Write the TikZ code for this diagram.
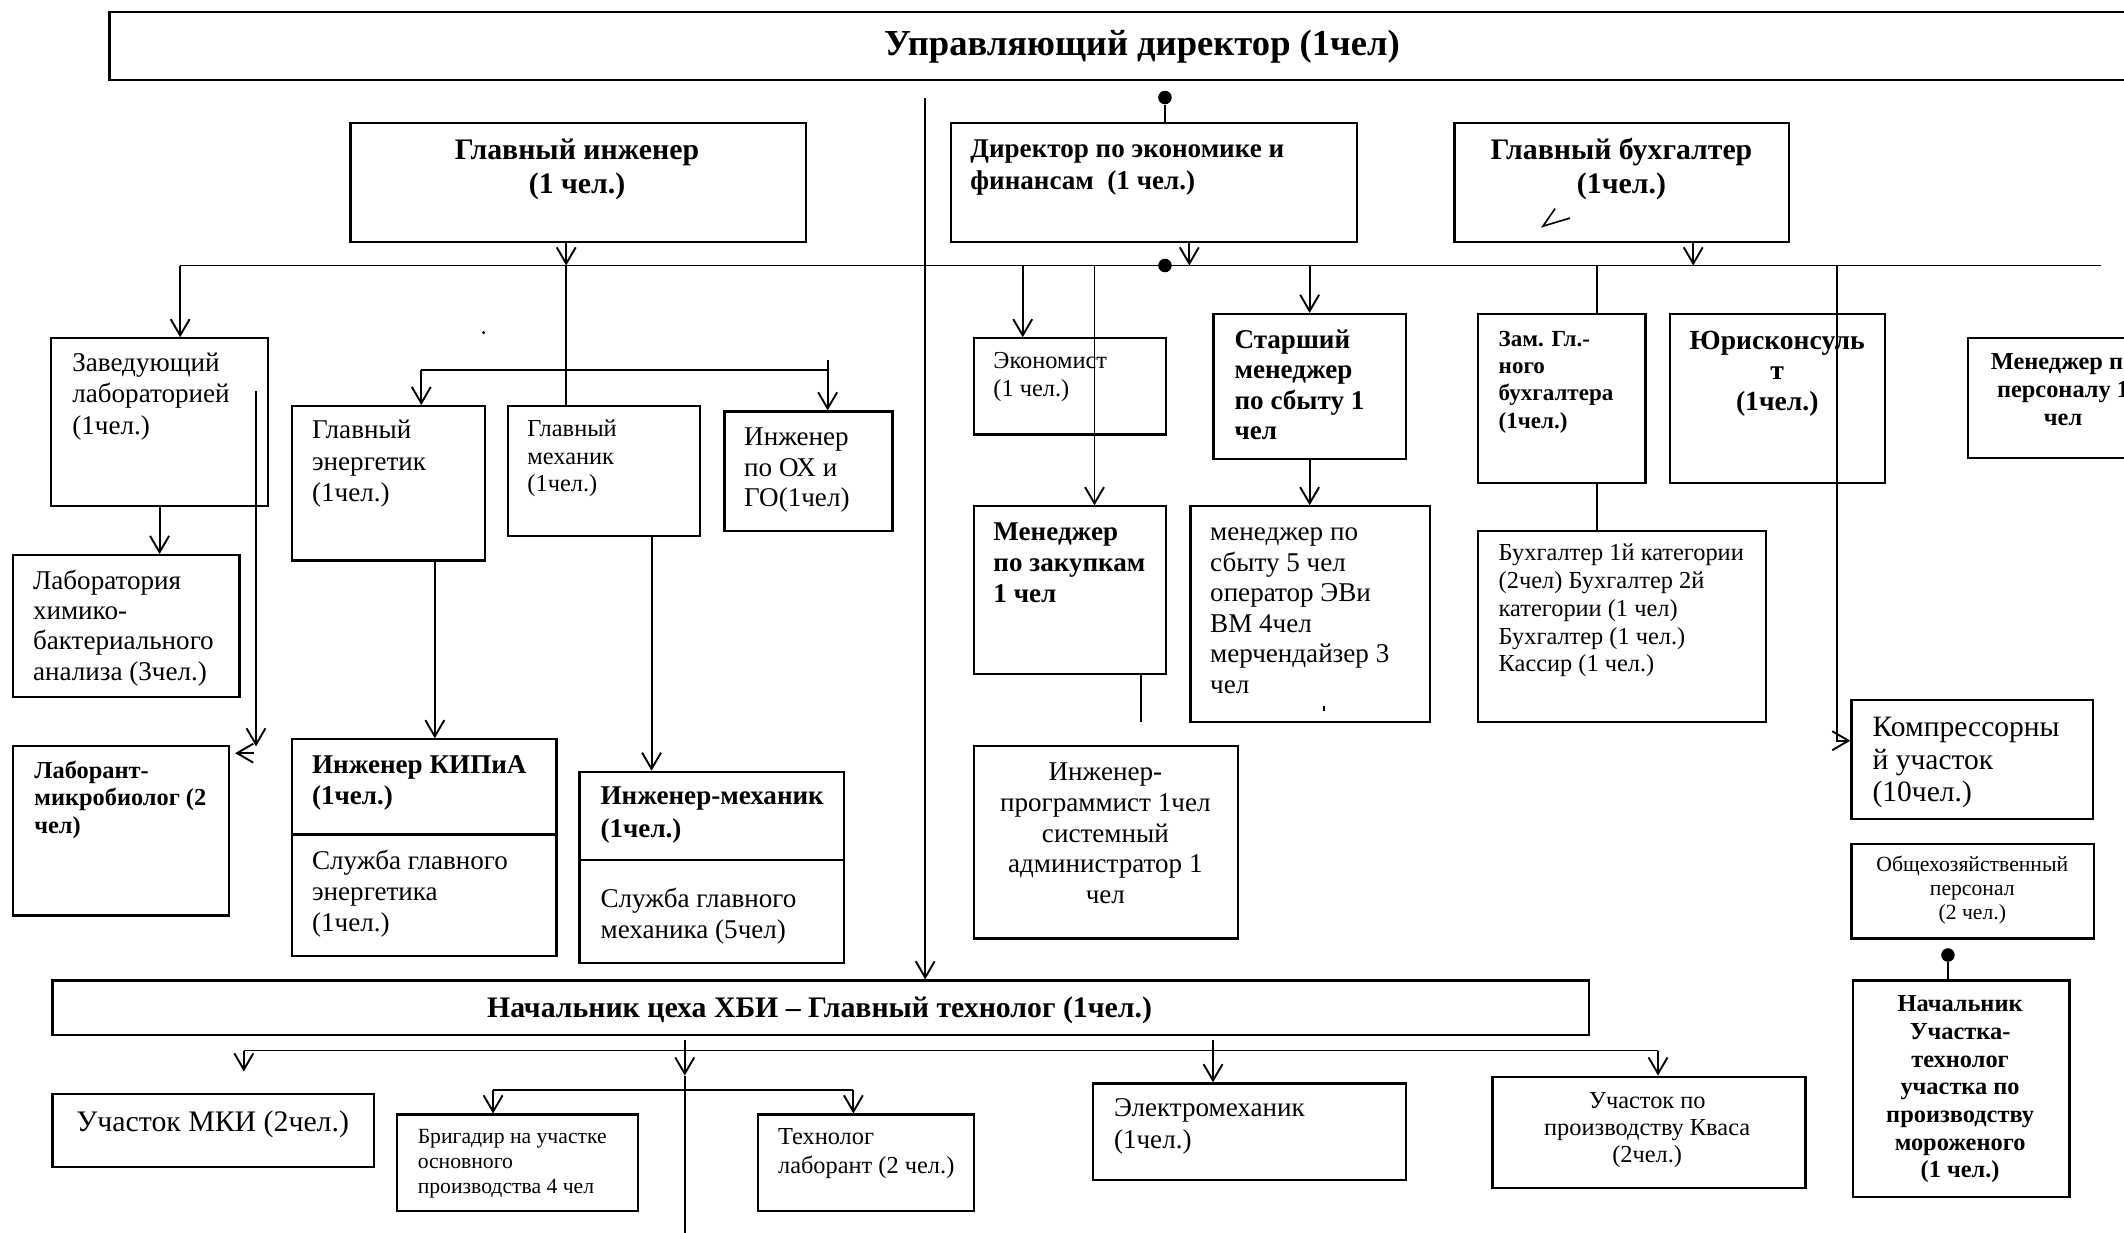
\documentclass[tikz,border=0pt]{standalone}
\usepackage{fontspec}
\setmainfont{Liberation Serif}
\usetikzlibrary{arrows.meta}

\begin{document}
\begin{tikzpicture}[x=0.5pt, y=-0.5pt,
    box/.style={draw, line width=0.8pt, anchor=north west, inner sep=0pt},
    txt/.style={inner sep=0pt, anchor=base west, align=left},
    ctxt/.style={inner sep=0pt, anchor=base, align=center},
    link/.style={line width=0.7pt},
    arr/.style={link, -{Straight Barb[length=6pt, width=7pt, line width=0.7pt]}},
    dot/.style={circle, fill, inner sep=0pt, minimum size=5pt}]
    \useasboundingbox (0,0) rectangle (1568,910);
    \clip (0,0) rectangle (1568,910);

    % boxes
    \node[box, minimum width=763pt, minimum height=25pt] (ud) at (80,8) {};
    \node[box, minimum width=168pt, minimum height=44pt] (gi) at (258,90) {};
    \node[box, minimum width=150pt, minimum height=44pt] (dir) at (701,90) {};
    \node[box, minimum width=123.5pt, minimum height=44pt] (gb) at (1073,90) {};
    \node[box, minimum width=80pt, minimum height=62pt] (zav) at (37,249) {};
    \node[box, minimum width=83.5pt, minimum height=52.5pt] (lab) at (9,409) {};
    \node[box, minimum width=79.5pt, minimum height=62.5pt] (mikro) at (9,550) {};
    \node[box, minimum width=71pt, minimum height=57pt] (ge) at (215,299) {};
    \node[box, minimum width=71pt, minimum height=48pt] (gm) at (374,299) {};
    \node[box, minimum width=62pt, minimum height=44pt] (ox) at (534,303) {};
    \node[box, minimum width=97.5pt, minimum height=80pt] (kip) at (215,545) {};
    \node[box, minimum width=97.5pt, minimum height=70.5pt] (im) at (427,569) {};
    \node[box, minimum width=71pt, minimum height=35.5pt] (eko) at (718,249) {};
    \node[box, minimum width=71pt, minimum height=53.5pt] (smen) at (895,231) {};
    \node[box, minimum width=88.5pt, minimum height=79.5pt] (msb) at (878,373) {};
    \node[box, minimum width=71pt, minimum height=62pt] (zak) at (718,373) {};
    \node[box, minimum width=97.5pt, minimum height=71pt] (prog) at (718,550) {};
    \node[box, minimum width=62pt, minimum height=62.5pt] (zam) at (1090,231) {};
    \node[box, minimum width=106.5pt, minimum height=70.5pt] (buh) at (1090,391) {};
    \node[box, minimum width=79.5pt, minimum height=62.5pt] (yur) at (1232,231) {};
    \node[box, minimum width=71pt, minimum height=44pt] (pers) at (1452,249) {};
    \node[box, minimum width=89pt, minimum height=44pt] (komp) at (1366,516) {};
    \node[box, minimum width=89.5pt, minimum height=35pt] (obsh) at (1366,622) {};
    \node[box, minimum width=80pt, minimum height=80pt] (moro) at (1367,723) {};
    \node[box, minimum width=567pt, minimum height=20pt] (nach) at (38,723) {};
    \node[box, minimum width=118.5pt, minimum height=27pt] (mki) at (38,807) {};
    \node[box, minimum width=89pt, minimum height=35.5pt] (brig) at (292,822) {};
    \node[box, minimum width=79.5pt, minimum height=35.5pt] (tech) at (559,822) {};
    \node[box, minimum width=115.5pt, minimum height=35.5pt] (elm) at (806,799) {};
    \node[box, minimum width=115.5pt, minimum height=41pt] (kvas) at (1101,794) {};

    % split lines in two boxes
    \coordinate (kip-div) at (215,616);
    \coordinate (im-div) at (427,635);
    \draw[line width=0.8pt] (kip-div) -- (kip-div -| kip.east);
    \draw[line width=0.8pt] (im-div) -- (im-div -| im.east);

    % texts (anchored at the baseline of the last line)
    \node[ctxt, font=\bfseries\fontsize{13.5}{15}\selectfont] (ud-t) at (843,41) {Управляющий директор (1чел)};
    \node[ctxt, font=\bfseries\fontsize{11}{12.5}\selectfont] (gi-t) at (426,143) {Главный инженер\\(1 чел.)};
    \node[txt, font=\bfseries\fontsize{10}{12}\selectfont] (dir-t) at (716,140) {Директор по экономике и\\финансам\ \ (1 чел.)};
    \node[ctxt, font=\bfseries\fontsize{11}{12.5}\selectfont] (gb-t) at (1197,143) {Главный бухгалтер\\(1чел.)};
    \node[txt, font=\fontsize{10}{11.7}\selectfont] (zav-t) at (53,320.8) {Заведующий\\лабораторией\\(1чел.)};
    \node[txt, font=\fontsize{10}{11.2}\selectfont] (lab-t) at (24,502.2) {Лаборатория\\химико-\\бактериального\\анализа (3чел.)};
    \node[txt, font=\bfseries\fontsize{9}{10}\selectfont] (mikro-t) at (25,615) {Лаборант-\\микробиолог (2\\чел)};
    \node[txt, font=\fontsize{10}{11.5}\selectfont] (ge-t) at (230,370) {Главный\\энергетик\\(1чел.)};
    \node[txt, font=\fontsize{9}{10.3}\selectfont] (gm-t) at (389,363.2) {Главный\\механик\\(1чел.)};
    \node[txt, font=\fontsize{10}{11.3}\selectfont] (ox-t) at (549,374.2) {Инженер\\по ОХ и\\ГО(1чел)};
    \node[txt, font=\bfseries\fontsize{10}{11.5}\selectfont] (kip-t) at (230,594) {Инженер КИПиА\\(1чел.)};
    \node[txt, font=\fontsize{10}{11.5}\selectfont] (kip-s) at (230,688) {Служба главного\\энергетика\\(1чел.)};
    \node[txt, font=\bfseries\fontsize{10}{12}\selectfont] (im-t) at (443,618) {Инженер-механик\\(1чел.)};
    \node[txt, font=\fontsize{10}{11.5}\selectfont] (im-s) at (443,693) {Служба главного\\механика (5чел)};
    \node[txt, font=\fontsize{9}{10.5}\selectfont] (eko-t) at (733,293) {Экономист\\(1 чел.)};
    \node[txt, font=\bfseries\fontsize{10}{11.3}\selectfont] (smen-t) at (911,324.8) {Старший\\менеджер\\по сбыту 1\\чел};
    \node[txt, font=\bfseries\fontsize{10}{11.5}\selectfont] (zak-t) at (733,445) {Менеджер\\по закупкам\\1 чел};
    \node[txt, font=\fontsize{10}{11.3}\selectfont] (msb-t) at (893,512) {менеджер по\\сбыту 5 чел\\оператор ЭВи\\ВМ 4чел\\мерчендайзер 3\\чел};
    \node[ctxt, font=\fontsize{10}{11.4}\selectfont] (prog-t) at (816,667.2) {Инженер-\\программист 1чел\\системный\\администратор 1\\чел};
    \node[txt, font=\bfseries\fontsize{8.5}{10}\selectfont] (zam-t) at (1106,316) {Зам. Гл.-\\ного\\бухгалтера\\(1чел.)};
    \node[txt, font=\fontsize{9}{10.25}\selectfont] (buh-t) at (1106,496) {Бухгалтер 1й категории\\(2чел) Бухгалтер 2й\\категории (1 чел)\\Бухгалтер (1 чел.)\\Кассир (1 чел.)};
    \node[ctxt, font=\bfseries\fontsize{10.2}{11.25}\selectfont] (yur-t) at (1312,303) {Юрисконсуль\\т\\(1чел.)};
    \node[ctxt, font=\bfseries\fontsize{9}{10.3}\selectfont] (pers-t) at (1523,314.2) {Менеджер по\\персоналу 1\\чел};
    \node[txt, font=\fontsize{10.9}{12}\selectfont] (komp-t) at (1382,592) {Компрессорны\\й участок\\(10чел.)};
    \node[ctxt, font=\fontsize{8}{9}\selectfont] (obsh-t) at (1456,679) {Общехозяйственный\\персонал\\(2 чел.)};
    \node[ctxt, font=\bfseries\fontsize{9}{10.2}\selectfont] (moro-t) at (1447,869.4) {Начальник\\Участка-\\технолог\\участка по\\производству\\мороженого\\(1 чел.)};
    \node[ctxt, font=\bfseries\fontsize{11}{12}\selectfont] (nach-t) at (605,751) {Начальник цеха ХБИ – Главный технолог (1чел.)};
    \node[ctxt, font=\fontsize{11}{12}\selectfont] (mki-t) at (157,835) {Участок МКИ (2чел.)};
    \node[txt, font=\fontsize{8}{9.25}\selectfont] (brig-t) at (308,881) {Бригадир на участке\\основного\\производства 4 чел};
    \node[txt, font=\fontsize{9}{10.5}\selectfont] (tech-t) at (574,866) {Технолог\\лаборант (2 чел.)};
    \node[txt, font=\fontsize{10}{12}\selectfont] (elm-t) at (822,848) {Электромеханик\\(1чел.)};
    \node[ctxt, font=\fontsize{9}{10}\selectfont] (kvas-t) at (1216,858) {Участок по\\производству Кваса\\(2чел.)};

    % top links
    \node[dot] (d1) at (860,72) {};
    \draw[link] (d1) -- (d1 |- dir.north);
    \coordinate (main-top) at (683,72);
    \draw[arr] (main-top) -- (main-top |- nach.north);

    % bus under the top managers
    \coordinate (bus-l) at (133,196);
    \coordinate (bus-r) at (1551,196);
    \coordinate (gi-out) at (418,196);
    \coordinate (dir-out) at (878,196);
    \coordinate (gb-out) at (1250,196);
    \coordinate (eko-in) at (755,196);
    \coordinate (zak-in) at (808,196);
    \coordinate (zam-in) at (1179,196);
    \coordinate (komp-in) at (1356,196);
    \draw[link] (bus-l) -- (bus-r);
    \node[dot] (d2) at (860,196) {};
    \draw[arr] (gi-out |- gi.south) -- (gi-out);
    \draw[arr] (dir-out |- dir.south) -- (dir-out);
    \draw[arr] (gb-out |- gb.south) -- (gb-out);
    \draw[arr] (bus-l) -- (bus-l |- zav.north);
    \draw[link] (gi-out) -- (gi-out |- gm.north);
    \draw[arr] (eko-in) -- (eko-in |- eko.north);
    \draw[arr] (zak-in) -- (zak-in |- zak.north);
    \draw[arr] (smen.north |- bus-l) -- (smen.north);
    \draw[link] (zam-in) -- (zam-in |- zam.north);
    \draw[link] (zam-in |- zam.south) -- (zam-in |- buh.north);
    \draw[arr] (komp-in) |- ([yshift=7pt]komp.west);

    % chief engineer branch
    \coordinate (ge-in) at (311,273);
    \coordinate (ox-in) at (611,273);
    \draw[link] (ge-in) -- (ox-in);
    \draw[arr] (ge-in) -- (ge-in |- ge.north);
    \draw[arr] ([yshift=3.5pt]ox-in) -- (ox-in |- ox.north);
    \draw[arr] (zav.south) -- (zav.south |- lab.north);
    \coordinate (zav-in) at (189,289);
    \coordinate (mikro-in) at (189,551);
    \draw[arr] (zav-in) -- (mikro-in);
    \draw[arr] ([xshift=9pt, yshift=-3pt]mikro.north east) -- ([xshift=2pt, yshift=-3pt]mikro.north east);
    \coordinate (ge-out) at (321,0);
    \coordinate (gm-out) at (481,0);
    \draw[arr] (ge-out |- ge.south) -- (ge-out |- kip.north);
    \draw[arr] (gm-out |- gm.south) -- (gm-out |- im.north);

    % sales and purchase
    \draw[arr] (smen.south) -- (smen.south |- msb.north);
    \coordinate (zak-out) at (842.5,0);
    \coordinate (zak-end) at (842.5,533);
    \draw[link] (zak-out |- zak.south) -- (zak-end);

    % ice cream section
    \node[dot] (d3) at (1438,705) {};
    \draw[link] (d3) -- (d3 |- moro.north);

    % under the head of workshop
    \coordinate (nb-l) at (180,775.5);
    \coordinate (nb-r) at (1224,775.5);
    \coordinate (mki-end) at (180,791);
    \coordinate (elm-top) at (895.5,768);
    \coordinate (c-top) at (505.5,768);
    \coordinate (c-mid) at (505.5,794);
    \coordinate (c-bot) at (505.5,920);
    \coordinate (sb-l) at (364,804.5);
    \coordinate (sb-r) at (630,804.5);
    \draw[link] (nb-l) -- (nb-r);
    \draw[arr] (nb-l) -- (mki-end);
    \draw[arr] (nb-r) -- (nb-r |- kvas.north);
    \draw[arr] (elm-top) -- (elm-top |- elm.north);
    \draw[arr] (c-top) -- (c-mid);
    \draw[link] (c-mid) -- (c-bot);
    \draw[link] (sb-l) -- (sb-r);
    \draw[arr] (sb-l) -- (sb-l |- brig.north);
    \draw[arr] (sb-r) -- (sb-r |- tech.north);

    % stray marks
    \draw[line width=0.6pt] (1148,154) -- (1139,167) -- (1159,161);
    \fill (977,521) rectangle (978.5,525);
    \fill (357,245.5) circle (0.6pt);
\end{tikzpicture}
\end{document}
